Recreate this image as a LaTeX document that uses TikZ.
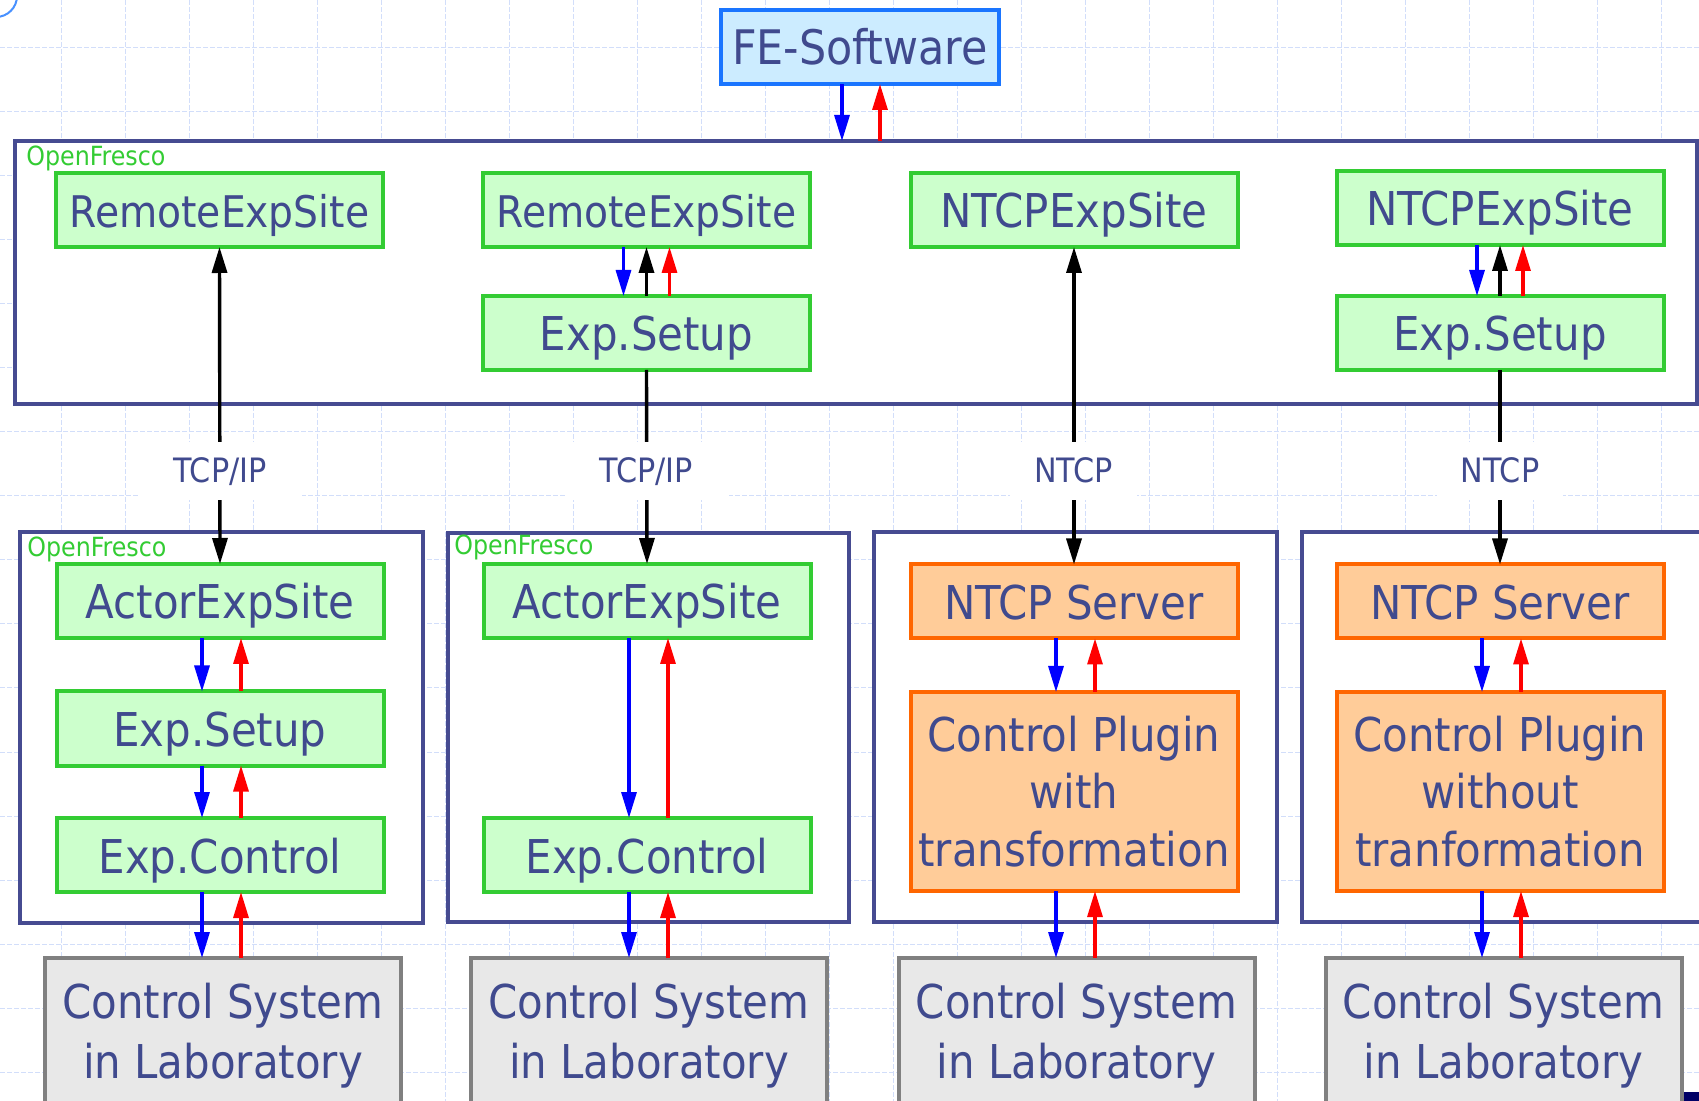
\documentclass[tikz,border=0pt]{standalone}
\usepackage{fontspec}
\setmainfont{DejaVu Sans Condensed}
\usetikzlibrary{arrows.meta,fit}

\definecolor{ink}{HTML}{404A8E}
\definecolor{framec}{HTML}{464B91}
\definecolor{gridc}{HTML}{D2DEFA}
\definecolor{greenfill}{HTML}{CCFFCC}
\definecolor{greenline}{HTML}{33CC33}
\definecolor{orangefill}{HTML}{FFCC99}
\definecolor{orangeline}{HTML}{FF6600}
\definecolor{grayfill}{HTML}{E8E8E8}
\definecolor{grayline}{HTML}{808080}
\definecolor{fefill}{HTML}{CCECFF}
\definecolor{feline}{HTML}{1A75FF}
\definecolor{sigblue}{HTML}{0000FF}
\definecolor{sigred}{HTML}{FF0000}

\tikzset{
  gridline/.style={draw=gridc, line width=0.5pt, dash pattern=on 2.5pt off 1pt},
  frame/.style={draw=framec, fill=white, line width=1.6pt, inner sep=0pt, outer sep=0pt},
  ofl/.style={anchor=base west, text=greenline, inner sep=0pt,
    font=\fontsize{13.2}{15}\selectfont},
  boxbase/.style={line width=2pt, outer sep=0pt, inner sep=2pt, text=ink,
    align=center, minimum width=163.5pt, minimum height=37pt},
  onel/.style={text height=22pt, text depth=4pt},
  gbox/.style={boxbase, onel, draw=greenline, fill=greenfill,
    font=\fontsize{23.3}{29}\selectfont},
  obox/.style={boxbase, draw=orangeline, fill=orangefill,
    font=\fontsize{23.3}{29}\selectfont},
  plugbox/.style={boxbase, draw=orangeline, fill=orangefill,
    font=\fontsize{23.3}{28.75}\selectfont, minimum height=99.5pt},
  labbox/.style={boxbase, anchor=north, draw=grayline, fill=grayfill,
    font=\fontsize{23.3}{30}\selectfont, minimum width=178pt, inner ysep=12.5pt},
  febox/.style={boxbase, onel, draw=feline, fill=fefill,
    font=\fontsize{23.8}{29}\selectfont, minimum width=139pt},
  lbl/.style={fill=white, text=ink, inner xsep=12pt, inner ysep=0pt,
    minimum height=29pt, text height=11.5pt, text depth=0pt,
    font=\fontsize{16.8}{19}\selectfont},
  tip/.tip={Triangle[length=13pt, width=7.5pt]},
  karrow/.style={draw=black, line width=1.7pt, -tip},
  barrow/.style={draw=sigblue, line width=1.6pt, -tip},
  rarrow/.style={draw=sigred, line width=1.6pt, -tip},
}

\begin{document}
\begin{tikzpicture}[x=0.5pt, y=-0.5pt]
\useasboundingbox (0,0) rectangle (1699,1101);
\clip (0,0) rectangle (1699,1101);

% background grid
\foreach \i in {-1,...,26} \draw[gridline] ({61+64*\i},0) -- ({61+64*\i},1101);
\foreach \j in {-1,...,17} \draw[gridline] (0,{48+64*\j}) -- (1699,{48+64*\j});

% corner marks
\draw[draw=feline!80, line width=1pt] (-4,-4) circle (21);
\fill[fill=blue!40!black] (1683,1092) rectangle (1720,1120);

% frames
\node[frame, fit={(15,141) (1697,404)}] (F0) {};
\node[frame, fit={(20,532) (423,923)}] (F1) {};
\node[frame, fit={(448,533) (849,922)}] (F2) {};
\node[frame, fit={(874,532) (1277,922)}] (F3) {};
\node[frame, fit={(1302,532) (1730,922)}] (F4) {};

\node[ofl] (of0) at (26,166) {OpenFresco};
\node[ofl] (of1) at (27,557) {OpenFresco};
\node[ofl] (of2) at (454,555) {OpenFresco};

% finite element program
\node[febox] (fe) at (860,47) {FE-Software};

% upper row
\node[gbox, font=\fontsize{21.8}{26}\selectfont] (rs1) at (219.5,210) {RemoteExpSite};
\node[gbox, font=\fontsize{21.8}{26}\selectfont] (rs2) at (646.5,210) {RemoteExpSite};
\node[gbox] (ns3) at (1074,210) {NTCPExpSite};
\node[gbox] (ns4) at (1500,208) {NTCPExpSite};
\node[gbox] (es2) at (646.5,333) {Exp.Setup};
\node[gbox] (es4) at (1500,333) {Exp.Setup};

% lower row
\node[gbox] (as1) at (220,601) {ActorExpSite};
\node[gbox] (es1) at (220,728.5) {Exp.Setup};
\node[gbox] (ec1) at (220,855) {Exp.Control};
\node[gbox] (as2) at (647,601) {ActorExpSite};
\node[gbox] (ec2) at (647,855) {Exp.Control};
\node[obox, onel] (sv3) at (1074,601.5) {NTCP Server};
\node[plugbox] (cp3) at (1074,791.5) {Control Plugin\\with\\transformation};
\node[obox, onel] (sv4) at (1500,601.5) {NTCP Server};
\node[plugbox] (cp4) at (1500,791.5) {Control Plugin\\without\\tranformation};

% laboratory control systems
\node[labbox] (cs1) at (223,958) {Control System\\in Laboratory};
\node[labbox] (cs2) at (649,958) {Control System\\in Laboratory};
\node[labbox] (cs3) at (1076.5,958) {Control System\\in Laboratory};
\node[labbox] (cs4) at (1503.5,958) {Control System\\in Laboratory};

% FE-Software <-> OpenFresco
\draw[barrow] ([xshift=-9pt]fe.south) -- ([xshift=-9pt]fe.south |- F0.north);
\draw[rarrow] ([xshift=10pt]fe.south |- F0.north) -- ([xshift=10pt]fe.south);

% site <-> setup inside the upper frame
\draw[barrow] ([xshift=-11.5pt]rs2.south) -- ([xshift=-11.5pt]es2.north);
\draw[karrow] (es2.north) -- (rs2.south);
\draw[rarrow] ([xshift=11.5pt]es2.north) -- ([xshift=11.5pt]rs2.south);
\draw[barrow] ([xshift=-11.5pt]ns4.south) -- ([xshift=-11.5pt]es4.north);
\draw[karrow] (es4.north) -- (ns4.south);
\draw[rarrow] ([xshift=11.5pt]es4.north) -- ([xshift=11.5pt]ns4.south);

% network links
\draw[karrow, tip-tip] (rs1.south) -- (as1.north);
\draw[karrow] (es2.south) -- (as2.north);
\draw[karrow, tip-tip] (ns3.south) -- (sv3.north);
\draw[karrow] (es4.south) -- (sv4.north);
\node[lbl, minimum width=82pt] (l1) at (220,471) {TCP/IP};
\node[lbl, minimum width=82pt] (l2) at (646.5,471) {TCP/IP};
\node[lbl] (l3) at (1073.5,471) {NTCP};
\node[lbl] (l4) at (1500,471) {NTCP};

% command / feedback signals in the lower frames
\foreach \a/\b in {as1/es1, es1/ec1, as2/ec2, sv3/cp3, sv4/cp4} {
  \draw[barrow] ([xshift=-9pt]\a.south) -- ([xshift=-9pt]\b.north);
  \draw[rarrow] ([xshift=10.5pt]\b.north) -- ([xshift=10.5pt]\a.south);
}
\foreach \a/\b in {ec1/cs1, ec2/cs2, cp3/cs3, cp4/cs4} {
  \draw[barrow] ([xshift=-9pt]\a.south) -- ([xshift=-9pt]\a.south |- \b.north);
  \draw[rarrow] ([xshift=10.5pt]\a.south |- \b.north) -- ([xshift=10.5pt]\a.south);
}
\end{tikzpicture}
\end{document}
